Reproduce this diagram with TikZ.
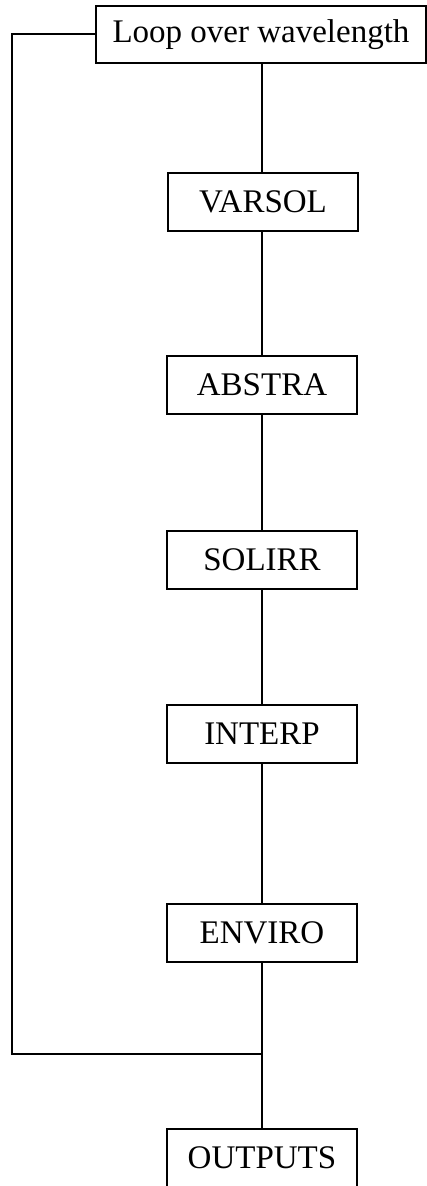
\documentclass[tikz,border=0pt]{standalone}
\usepackage{fontspec}
\setmainfont{Liberation Serif}
\usepackage{tikz}
\usetikzlibrary{positioning}

\tikzset{
  stage/.style={draw, line width=1pt, minimum width=95pt, minimum height=29pt, inner sep=0pt},
  link/.style={line width=1pt}
}

\begin{document}
\begin{tikzpicture}[x=0.5pt, y=-0.5pt, font=\fontsize{16.5}{19}\selectfont]

\useasboundingbox (0,0) rectangle (427,1186);

%%%%%%%%%%%%  Boxes %%%%%%%%%%%%%
\node[stage, minimum width=165pt, minimum height=28.5pt] (loop) at (261,34.5) {Loop over wavelength};

\node[stage] (varsol) at (263,202) {VARSOL};
\node[stage] (abstra) at (262,385) {ABSTRA};
\node[stage] (solirr) at (262,560) {SOLIRR};
\node[stage] (interp) at (262,734) {INTERP};
\node[stage] (enviro) at (262,933) {ENVIRO};
\node[stage] (outputs) at (262,1158) {OUTPUTS};

% corners of the loop line
\coordinate (back) at (12,1054);
\coordinate (join) at (262,1054);

%%%%%%%%%%%%  Lines %%%%%%%%%%%%%
\draw[link] (loop.south -| join) -- (varsol.north -| join);
\draw[link] (varsol.south -| join) -- (abstra.north);
\draw[link] (abstra) -- (solirr);
\draw[link] (solirr) -- (interp);
\draw[link] (interp) -- (enviro);
\draw[link] (enviro) -- (join) -- (outputs);

% return to the top of the loop
\draw[link] (loop.west) -| (back) -- (join);

\end{tikzpicture}
\end{document}
